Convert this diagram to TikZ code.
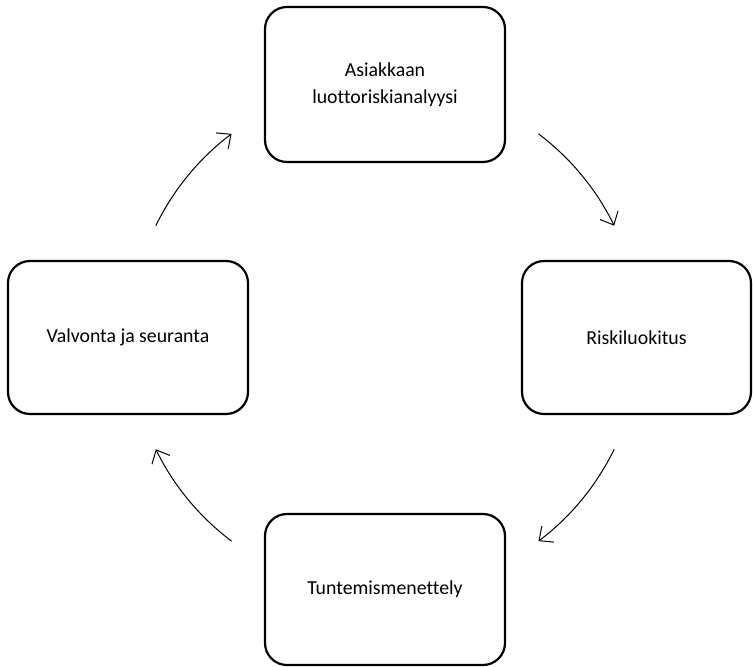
\documentclass[tikz,border=0pt]{standalone}
\usepackage{fontspec}
\setmainfont[Ligatures=NoCommon]{Carlito}
\usetikzlibrary{arrows.meta,calc}
\tikzset{
  stagebox/.style={draw=black, line width=2.2pt, rounded corners=22pt, fill=white,
    align=center, inner sep=0pt, font=\fontsize{19.8}{27}\selectfont},
  cyclearrow/.style={line width=1pt, -{Straight Barb[length=11pt,width=20pt,line width=1pt]}}
}
\begin{document}
\begin{tikzpicture}[x=1pt,y=1pt]
\useasboundingbox (0,0) rectangle (753,667);
\node[stagebox, minimum width=240pt, minimum height=155pt] (top) at (385,582.5) {Asiakkaan\\luottoriskianalyysi};
\node[stagebox, minimum width=229pt, minimum height=153pt] (right) at (636.5,329.5) {Riskiluokitus};
\node[stagebox, minimum width=240pt, minimum height=151pt] (bottom) at (385,77.5) {Tuntemismenettely};
\node[stagebox, minimum width=240pt, minimum height=153pt] (left) at (128,329.5) {Valvonta ja seuranta};
\coordinate (c) at (385,329.5);
\coordinate (a1) at ($(c)+(154:255)$);
\coordinate (a2) at ($(c)+(53:255)$);
\coordinate (a3) at ($(c)+(-26:255)$);
\coordinate (a4) at ($(c)+(233:255)$);
\draw[cyclearrow] (a1) arc[start angle=154, end angle=127, radius=255];
\draw[cyclearrow] (a2) arc[start angle=53, end angle=26, radius=255];
\draw[cyclearrow] (a3) arc[start angle=-26, end angle=-53, radius=255];
\draw[cyclearrow] (a4) arc[start angle=233, end angle=206, radius=255];
\end{tikzpicture}
\end{document}
